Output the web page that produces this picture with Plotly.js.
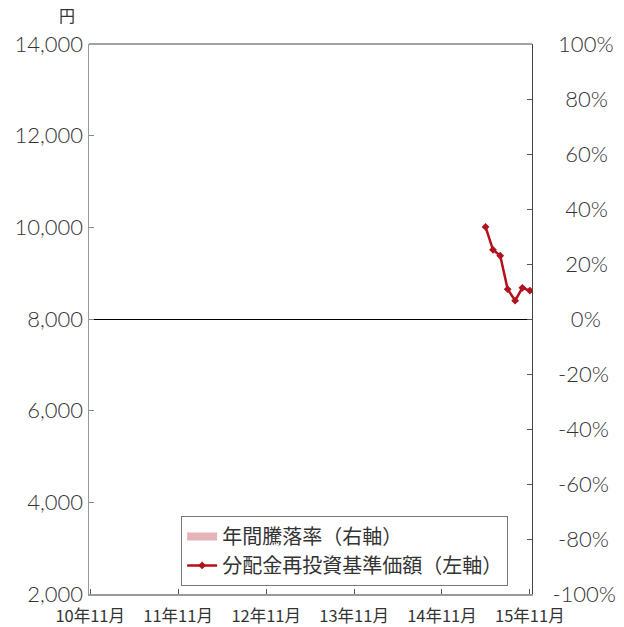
<!DOCTYPE html>
<html>
<head>
<meta charset="utf-8">
<script src="https://cdn.plot.ly/plotly-3.0.1.min.js"></script>
<style>html,body{margin:0;padding:0;background:#fff;}#chart{width:624px;height:627px;}</style>
</head>
<body>
<div id="chart"></div>
<script>
// Data
var navDates = ['2015-05-01','2015-06-01','2015-07-01','2015-08-01','2015-09-01','2015-10-01','2015-11-01'];
var navValues = [10010, 9510, 9380, 8650, 8400, 8680, 8620];
var returnDates = ['2015-11-01'];
var returnValues = [null];
var xTickVals = ['2010-11-01','2011-11-01','2012-11-01','2013-11-01','2014-11-01','2015-11-01'];
var xTickText = ['10年11月','11年11月','12年11月','13年11月','14年11月','15年11月'];
var yLeftTicks = [2000,4000,6000,8000,10000,12000,14000];
var yRightTicks = [-1,-0.8,-0.6,-0.4,-0.2,0,0.2,0.4,0.6,0.8,1];
var yRightText = ['-100%','\u2008\u200a-80%','\u2008\u200a-60%','\u2008\u200a-40%','\u2008\u200a-20%','\u2007\u2008\u200a0%','\u200720%','\u200740%','\u200760%','\u200780%','\u2008\u200a100%'];

var FONT = '"Noto Sans CJK JP", "Noto Sans", sans-serif';
var NUMFONT = 'Lato, "Noto Sans CJK JP", sans-serif';
var traces = [
  {
    type: 'scatter', mode: 'lines', name: '年間騰落率（右軸）',
    x: returnDates, y: returnValues, yaxis: 'y2',
    line: {color: '#e6b3b8', width: 8}, showlegend: true
  },
  {
    type: 'scatter', mode: 'lines+markers', name: '分配金再投資基準価額（左軸）',
    x: navDates, y: navValues, yaxis: 'y',
    line: {color: '#b3121c', width: 2.5},
    marker: {symbol: 'diamond', size: 6, color: '#b3121c'}
  }
];

var layout = {
  width: 624, height: 627,
  margin: {l: 89, r: 92, t: 44, b: 33},
  paper_bgcolor: '#fff', plot_bgcolor: '#fff',
  font: {family: FONT, color: '#333', size: 18},
  showlegend: true,
  legend: {
    x: 0.208, y: 0.142, xanchor: 'left', yanchor: 'top',
    bordercolor: '#777', borderwidth: 1, bgcolor: '#fff',
    font: {family: FONT, size: 20, color: '#333'},
    tracegroupgap: 0, itemwidth: 30
  },
  xaxis: {
    type: 'date', range: ['2010-10-27','2015-11-10'],
    tickvals: xTickVals, ticktext: xTickText,
    ticks: 'inside', ticklen: 5, tickcolor: '#555', tickwidth: 1,
    showline: true, linecolor: '#999', linewidth: 1.5,
    showgrid: false, zeroline: false,
    tickfont: {family: FONT, size: 16.5, color: '#333'}, ticklabelstandoff: 7
  },
  yaxis: {
    range: [2000, 14000], tickvals: yLeftTicks, tickformat: ',d',
    ticks: 'inside', ticklen: 5, tickcolor: '#888',
    showline: true, linecolor: '#999', linewidth: 1.5,
    showgrid: false, zeroline: false,
    tickfont: {family: NUMFONT, size: 22, color: '#333', weight: 300}
  },
  yaxis2: {
    overlaying: 'y', side: 'right', range: [-1, 1],
    tickvals: yRightTicks, ticktext: yRightText,
    ticks: 'inside', ticklen: 5, tickcolor: '#555',
    showline: true, linecolor: '#444', linewidth: 1,
    showgrid: false, zeroline: true, zerolinecolor: '#000', zerolinewidth: 1,
    tickfont: {family: NUMFONT, size: 22, color: '#333', weight: 300}, ticklabelstandoff: 15
  },
  shapes: [
    {type: 'line', xref: 'paper', yref: 'paper', x0: 0, x1: 1, y0: 1, y1: 1, line: {color: '#444', width: 1}}
  ],
  annotations: [
    {text: '円', xref: 'paper', yref: 'paper', x: -0.05, y: 1.0, yshift: 15, xanchor: 'center', yanchor: 'bottom', showarrow: false, font: {family: FONT, size: 16, color: '#333'}}
  ]
};

Plotly.newPlot('chart', traces, layout, {displayModeBar: false, staticPlot: true});
</script>
</body>
</html>
